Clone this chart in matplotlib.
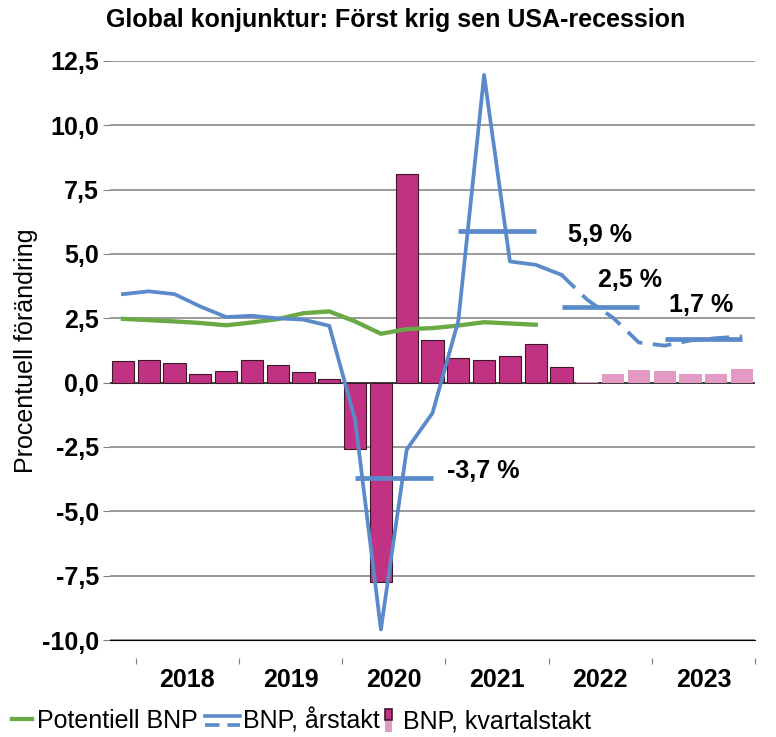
import matplotlib.pyplot as plt
from matplotlib.lines import Line2D
from matplotlib.patches import Rectangle

plt.rcParams['font.family'] = ['Liberation Sans', 'DejaVu Sans']

# kvartal 2017K4 - 2023K4, utfall t.o.m. 2022K1, sedan prognos
kvartal = ['2017K4',
           '2018K1', '2018K2', '2018K3', '2018K4',
           '2019K1', '2019K2', '2019K3', '2019K4',
           '2020K1', '2020K2', '2020K3', '2020K4',
           '2021K1', '2021K2', '2021K3', '2021K4',
           '2022K1', '2022K2', '2022K3', '2022K4',
           '2023K1', '2023K2', '2023K3', '2023K4']
antal_utfall = 18

bnp_kvartal = [0.83, 0.88, 0.78, 0.34, 0.45, 0.89, 0.69, 0.41, 0.14, -2.57, -7.74, 8.11,
               1.64, 0.94, 0.89, 1.05, 1.50, 0.61, 0.04, 0.35, 0.50, 0.45, 0.35, 0.35, 0.53]
bnp_arstakt = [3.44, 3.55, 3.44, 2.96, 2.55, 2.60, 2.50, 2.45, 2.21, -1.44, -9.59, -2.60,
               -1.18, 2.40, 11.96, 4.71, 4.58, 4.19, 3.22, 2.52, 1.56, 1.44, 1.64, 1.73, 1.80]
potentiell_bnp = [2.48, 2.43, 2.38, 2.32, 2.23, 2.34, 2.47, 2.70, 2.77, 2.38, 1.90, 2.08,
                  2.12, 2.22, 2.35, 2.30, 2.25]

ar = ['2018', '2019', '2020', '2021', '2022', '2023']
snitt_ar = ['2020', '2021', '2022', '2023']
snitt_niva = [-3.7, 5.9, 2.95, 1.7]
snitt_etikett = ['-3,7 %', '5,9 %', '2,5 %', '1,7 %']
# etikettens läge relativt linjens slut (x i kvartal, y i procentenheter)
etikett_dx = [0.56, 1.25, -1.6, -2.85]
etikett_dy = [0.25, -0.15, 1.03, 1.3]

bla = '#5A8AC9'
gron = '#6AAA45'
magenta = '#C13282'
rosa = '#E29AC4'

fig = plt.figure(figsize=(7.76, 7.37), dpi=100)
ax = fig.add_axes([110 / 776, 1 - 640 / 737, 645 / 776, 579 / 737])

x = list(range(len(kvartal)))
stapel_utfall = ax.bar(x[:antal_utfall], bnp_kvartal[:antal_utfall], width=0.86,
                       color=magenta, edgecolor='#3a1a2a', linewidth=0.8, zorder=2)
stapel_prognos = ax.bar(x[antal_utfall:], bnp_kvartal[antal_utfall:], width=0.86,
                        color=rosa, edgecolor='none', zorder=2)

linje_pot, = ax.plot(x[:len(potentiell_bnp)], potentiell_bnp, color=gron, lw=3.1, zorder=3,
                     solid_joinstyle='round')
linje_hel, = ax.plot(x[:antal_utfall], bnp_arstakt[:antal_utfall], color=bla, lw=2.7, zorder=4)
linje_streck, = ax.plot(x[antal_utfall - 1:], bnp_arstakt[antal_utfall - 1:], color=bla, lw=2.7,
                        dashes=(5, 2.8), zorder=4)

for a, niva, text, dx, dy in zip(snitt_ar, snitt_niva, snitt_etikett, etikett_dx, etikett_dy):
    idx = [i for i, k in enumerate(kvartal) if k.startswith(a)]
    ax.hlines(niva, idx[0], idx[-1], color=bla, lw=3.4, zorder=5)
    ax.text(idx[-1] + dx, niva + dy, text, fontsize=18, fontweight='bold', va='center', ha='left')

ax.set_xlim(-0.5, len(kvartal) - 0.5)
ax.set_ylim(-10, 12.5)
yticks = [-10, -7.5, -5, -2.5, 0, 2.5, 5, 7.5, 10, 12.5]
ax.set_yticks(yticks, [f'{v:.1f}'.replace('.', ',') for v in yticks],
              fontsize=18, fontweight='bold')
ax.tick_params(axis='y', length=5, color='#808080', pad=3)
ax.tick_params(axis='x', bottom=False, labelbottom=False)
ax.yaxis.grid(True, color='#808080', lw=1.1, zorder=0)
ax.set_axisbelow(True)
ax.axhline(0, color='#222222', lw=1.1, zorder=1.5)
for s in ['top', 'right', 'left']:
    ax.spines[s].set_visible(False)
ax.spines['bottom'].set_color('black')
ax.set_ylabel('Procentuell förändring', fontsize=18, labelpad=3)

# årsaxel under diagrammet
forsta = [kvartal.index(a + 'K1') for a in ar]
sek = ax.secondary_xaxis(-0.031)
sek.set_xticks([f - 0.5 for f in forsta] + [forsta[-1] + 3.5])
sek.set_xticks([f + 1.5 for f in forsta], ar, minor=True, fontsize=18, fontweight='bold')
sek.tick_params(which='major', length=4, color='#808080', labelbottom=False)
sek.tick_params(which='minor', length=0, pad=7)
sek.spines['bottom'].set_visible(False)

fig.text(0.51, 1 - 20 / 737, 'Global konjunktur: Först krig sen USA-recession',
         fontsize=18, fontweight='bold', ha='center', va='center')


class HandlerBla:
    def legend_artist(self, legend, orig_handle, fontsize, handlebox):
        x0, y0 = handlebox.xdescent, handlebox.ydescent
        w, h = handlebox.width, handlebox.height
        t = handlebox.get_transform()
        l1 = Line2D([x0, x0 + w], [y0 + 0.7 * h] * 2, color=bla, lw=2.6, transform=t)
        l2 = Line2D([x0, x0 + w], [y0 + 0.2 * h] * 2, color=bla, lw=2.6,
                    dashes=(4, 2.2), transform=t)
        handlebox.add_artist(l1)
        handlebox.add_artist(l2)
        return l1


class HandlerStapel:
    def legend_artist(self, legend, orig_handle, fontsize, handlebox):
        x0, y0 = handlebox.xdescent, handlebox.ydescent
        w, h = handlebox.width, handlebox.height
        t = handlebox.get_transform()
        r1 = Rectangle((x0, y0 + 0.45 * h), 5.2, 0.62 * h, facecolor=magenta,
                       edgecolor='#3a1a2a', lw=1.2, transform=t)
        r2 = Rectangle((x0, y0 - 0.2 * h), 5.2, 0.62 * h, facecolor=rosa,
                       edgecolor='none', transform=t)
        handlebox.add_artist(r2)
        handlebox.add_artist(r1)
        return r1


h_bla = (linje_hel, linje_streck)
h_stapel = (stapel_utfall[0], stapel_prognos[0])
poster = [
    ([linje_pot], ['Potentiell BNP'], 12, 0.8, 0.2, {}),
    ([h_bla], ['BNP, årstakt'], 205, 1.4, 0.12, {h_bla: HandlerBla()}),
    ([h_stapel], ['BNP, kvartalstakt'], 385, 0.5, 0.22, {h_stapel: HandlerStapel()}),
]
for handles, labels, xpix, hl, tp, hmap in poster:
    fig.legend(handles, labels, handler_map=hmap, loc='lower left',
               bbox_to_anchor=(xpix / 776, 4 / 737), frameon=False, fontsize=18,
               handlelength=hl, handletextpad=tp, borderpad=0, borderaxespad=0)

plt.savefig('out.png', dpi=100)
